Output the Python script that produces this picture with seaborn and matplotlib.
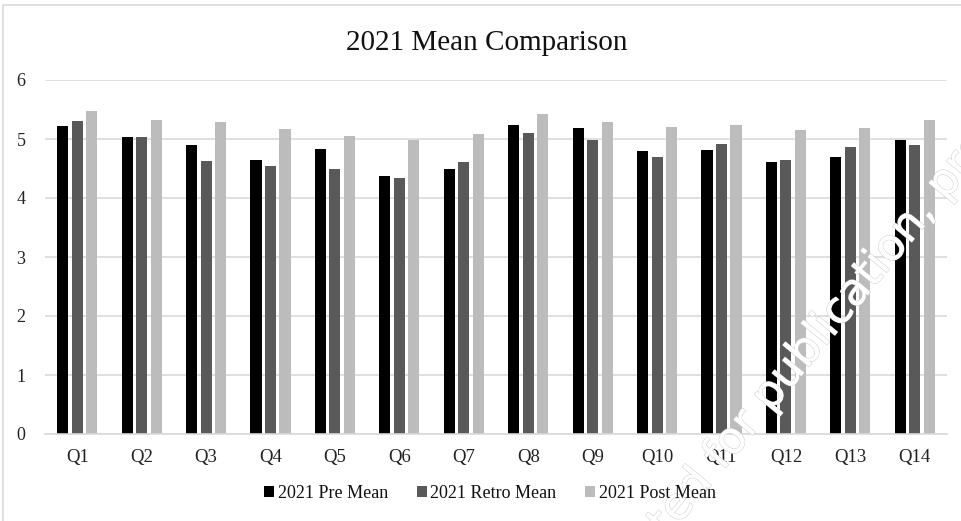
import pandas as pd
import matplotlib
matplotlib.use("Agg")
import matplotlib.pyplot as plt
import matplotlib.patches as mpatches
import matplotlib.patheffects as pe
import seaborn as sns

# values
questions = ["Q1", "Q2", "Q3", "Q4", "Q5", "Q6", "Q7", "Q8", "Q9", "Q10", "Q11", "Q12", "Q13", "Q14"]
pre_mean = [5.22, 5.04, 4.89, 4.65, 4.83, 4.38, 4.50, 5.23, 5.19, 4.80, 4.81, 4.61, 4.69, 4.98]
retro_mean = [5.30, 5.04, 4.63, 4.55, 4.49, 4.34, 4.61, 5.11, 4.99, 4.69, 4.91, 4.64, 4.86, 4.89]
post_mean = [5.47, 5.32, 5.29, 5.17, 5.05, 4.99, 5.08, 5.42, 5.29, 5.20, 5.23, 5.16, 5.19, 5.33]
series_names = ["2021 Pre Mean", "2021 Retro Mean", "2021 Post Mean"]
colors = ["#000000", "#595959", "#bcbcbc"]

# long format for seaborn
df = pd.DataFrame({
    "Question": questions * 3,
    "Series": [series_names[0]] * 14 + [series_names[1]] * 14 + [series_names[2]] * 14,
    "Mean": pre_mean + retro_mean + post_mean,
})

sns.set_theme(style="white")
plt.rcParams["font.family"] = ["Liberation Serif", "DejaVu Serif"]

fig = plt.figure(figsize=(9.62, 5.21), dpi=100)
ax = fig.add_axes([45 / 962, 87 / 521, 902 / 962, 354 / 521])

sns.barplot(data=df, x="Question", y="Mean", hue="Series", palette=colors,
            width=0.675, gap=0.24, saturation=1, linewidth=0, ax=ax, legend=False)

ax.set_ylim(0, 6)
ax.set_yticks(range(7))
ax.set_xlim(-0.5, 13.5)
ax.yaxis.grid(True, color="#d9d9d9", linewidth=1.2)
ax.set_axisbelow(True)
for side in ["top", "right", "left"]:
    ax.spines[side].set_visible(False)
ax.spines["bottom"].set_color("#d9d9d9")
ax.spines["bottom"].set_linewidth(1.2)
ax.tick_params(axis="y", length=0, pad=14, labelsize=13, labelcolor="#222222")
ax.tick_params(axis="x", length=0, pad=11, labelsize=13.5, labelcolor="#222222")
ax.set_xlabel("")
ax.set_ylabel("")

fig.text(487 / 962, 1 - 43 / 521, "2021 Mean Comparison", ha="center", va="center",
         fontsize=21, color="#111111")

handles = [mpatches.Patch(facecolor=c, edgecolor="none") for c in colors]
fig.legend(handles, series_names, loc="center", bbox_to_anchor=(490 / 962, 1 - 493 / 521),
           ncol=3, frameon=False, fontsize=13, handlelength=0.55, handleheight=0.55,
           handletextpad=0.2, columnspacing=1.6, labelcolor="#111111")

# chart frame
fig.patches.append(mpatches.Rectangle((3 / 962, -0.2), 1.1, 1.2 - 5 / 521, transform=fig.transFigure,
                                      fill=False, edgecolor="#d9d9d9", linewidth=1.2))

# watermark
wm = fig.text(0.605, -0.232, "Accepted for publication, pre", rotation=50.5, rotation_mode="anchor",
              ha="left", va="baseline", fontsize=32, color="white", family="DejaVu Sans")
wm.set_path_effects([pe.withStroke(linewidth=0.9, foreground="#cccccc"), pe.Normal()])

fig.savefig("out.png", dpi=100)
